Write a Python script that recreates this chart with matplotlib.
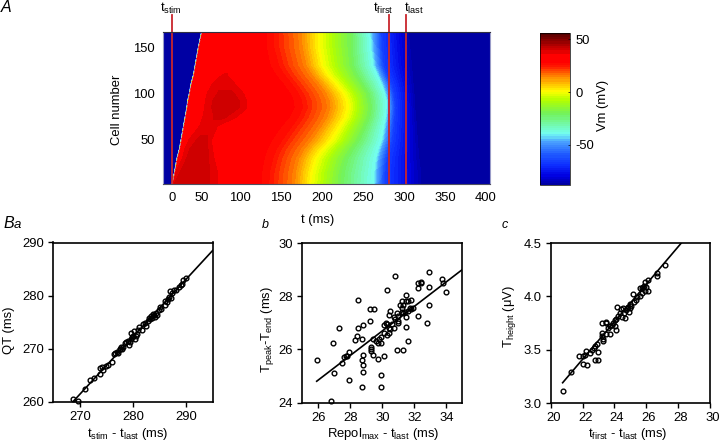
import numpy as np
import matplotlib
matplotlib.use("Agg")
import matplotlib.pyplot as plt
from matplotlib.colors import LinearSegmentedColormap
from matplotlib.transforms import ScaledTranslation

plt.rcParams['font.family'] = ['Liberation Sans', 'DejaVu Sans']
plt.rcParams['font.size'] = 9.4
plt.rcParams['mathtext.fontset'] = 'custom'
plt.rcParams['mathtext.rm'] = 'Liberation Sans'
plt.rcParams['mathtext.it'] = 'Liberation Sans:italic'
plt.rcParams['mathtext.default'] = 'regular'

# Panel A: time (ms) at which each cell row passes each voltage
cell_rows = [2, 15, 30, 40, 50, 65, 75, 85, 92, 100, 110, 120, 130, 150, 167]
t_act = [17, 20, 23, 26, 28, 31, 33, 35, 36, 38, 40, 43, 45, 49, 53]
t_rise = [19, 22, 30, 33, 38, 51, 55, 57, 58, 60, 66, 78, 88, 90, 92]
t_peak1 = [20, 30, 38, 42, 50, 58, 72, 70, 71, 76, 72, 80, 92, 94, 96]
t_peak2 = [57, 58, 58, 58, 58, 66, 80, 94, 94, 90, 88, 82, 96, 98, 100]
t_fall = [72, 72, 68, 66, 65, 72, 96, 108, 108, 104, 94, 84, 100, 102, 104]
t_27 = [132, 133, 137, 141, 148, 160, 168, 173, 172, 168, 160, 151, 144, 138, 137]
t_15 = [165, 166, 170, 176, 185, 197, 204, 208, 207, 203, 195, 186, 179, 174, 173]
t_0 = [186, 188, 193, 201, 212, 222, 229, 232, 231, 227, 218, 208, 201, 197, 197]
t_m20 = [222, 223, 228, 235, 243, 251, 256, 258, 257, 255, 248, 241, 236, 234, 234]
t_m40 = [262, 263, 265, 268, 272, 275, 277, 278, 278, 276, 272, 267, 262, 259, 258]
t_m65 = [277, 277, 279, 282, 285, 287, 288, 289, 288, 287, 284, 279, 275, 273, 272]
t_m85 = [320, 320, 318, 317, 316, 315, 314, 313, 313, 312, 311, 310, 309, 307, 305]
v_rise = [36, 36, 36, 36, 36, 36, 36, 36, 36, 36, 36, 36, 33, 33, 33]
v_peak = [42, 42, 42, 42, 41, 38, 41, 42, 42, 41, 38, 36.5, 33, 33, 33]
v_levels = list(np.arange(-88, 28, 2)) + [28, 36] + list(np.arange(40, 58, 2))

t_tick_pos = [17, 53, 100, 150, 200, 250, 300, 350, 400]
t_tick_labels = ['0', '50', '100', '150', '200', '250', '300', '350', '400']
t_stim, t_first, t_last = 17, 282, 303

# Panel Ba
qt_x = [268.7, 269.7, 271, 271.9, 272.6, 273.7, 273.7, 274.2, 274.4, 274.9, 275.3, 276, 276.4, 276.7, 277, 277.2, 277.5,
        277.6, 277.8, 278, 278.2, 278.5, 278.7, 279, 279.2, 279.4, 279.6, 279.8, 279.6, 280, 280.2, 280.3, 280.5, 280.8,
        281, 281.2, 281.7, 281.9, 282.2, 282.4, 282.8, 283, 283.2, 283.4, 283.6, 283.8, 284, 284.2, 284.4, 284.6, 284.9,
        285.1, 285.3, 286, 286.1, 286.4, 286.6, 286.8, 287, 287.1, 287.4, 287.8, 288.1, 288.7, 289, 289.3, 289.4, 290]
qt_y = [260.6, 260.2, 262.3, 264.1, 264.4, 265.3, 266.4, 266.6, 265.9, 266.8, 266.9, 267.5, 269, 269.1, 269.3, 269.2, 270,
        269.9, 270.4, 270, 270.3, 271, 271.3, 271.5, 270.7, 271.3, 271.8, 272.1, 272.9, 272.4, 273.4, 271.8, 272.3, 272.8,
        273.5, 274.1, 273.6, 274.7, 274.9, 274.3, 275.3, 275.8, 275.6, 276.2, 275.7, 276.6, 276.3, 275.9, 276.8, 276.3, 277.2,
        277.8, 277.5, 278.2, 278.9, 278.8, 279.4, 279.8, 280.8, 279.6, 280.5, 281.1, 281, 281.6, 281.9, 282.2, 283, 283.3]
qt_fit_x = [268.7, 295]
qt_fit_y = [260, 288.5]

# Panel b
tpe_x = [25.9, 26.9, 26.8, 27.0, 27.3, 27.5, 27.6, 27.7, 27.8, 27.9, 27.9, 28.3, 28.4, 28.5, 28.5, 28.7, 28.7, 28.7, 28.8,
         28.8, 28.8, 28.8, 29.2, 29.2, 29.3, 29.3, 29.3, 29.4, 29.4, 29.5, 29.6, 29.7, 29.7, 29.8, 29.9, 29.9, 29.9, 29.9,
         30.1, 30.1, 30.1, 30.2, 30.3, 30.3, 30.3, 30.4, 30.4, 30.4, 30.5, 30.5, 30.6, 30.7, 30.7, 30.8, 30.8, 30.9, 30.9,
         31, 31, 31, 31.1, 31.2, 31.2, 31.2, 31.3, 31.3, 31.3, 31.4, 31.5, 31.5, 31.5, 31.5, 31.6, 31.6, 31.6, 31.7, 31.8,
         31.8, 31.9, 32.2, 32.2, 32.2, 32.4, 32.4, 32.8, 32.9, 32.9, 32.9, 33.7, 33.8, 34]
tpe_y = [25.6, 26.25, 24.05, 25.1, 26.8, 25.5, 25.7, 25.75, 25.75, 25.9, 24.85, 26.35, 26.5, 26.8, 27.87, 26.4, 25.6, 24.6, 26.9,
         25.8, 25.4, 25.15, 27.5, 27.05, 26.1, 26, 25.95, 26.4, 25.8, 27.5, 26.3, 26.25, 25.65, 26.4, 26.45, 26.25, 25.05, 24.6,
         26.6, 26.9, 25.75, 27, 26.55, 26.95, 28.25, 26.6, 26.8, 27.3, 26.75, 27.45, 26.95, 27.2, 26.8, 27.15, 28.75, 27.35, 25.97,
         27.05, 27.25, 27, 27.65, 27.4, 27.55, 27.8, 27.35, 27.65, 25.97, 27.4, 27.2, 27.8, 26.85, 28.05, 27.8, 27.45, 26.3, 27.55, 27.5,
         27.85, 27.55, 28.5, 28.3, 27.25, 28.5, 28.55, 27, 28.9, 28.35, 27.65, 28.65, 28.5, 28.15]
tpe_fit_x = [25.9, 35]
tpe_fit_y = [24.8, 29]

# Panel c
th_x = [20.8, 21.27, 21.77, 22, 22.2, 22.03, 22.3, 22.17, 22.46, 22.6, 22.7, 22.8, 22.9, 22.78, 23, 23, 23.2, 23.2, 23.24,
        23.3, 23.3, 23.5, 23.45, 23.5, 23.6, 23.7, 23.7, 23.82, 23.92, 24.03, 24.1, 24.03, 24.13, 24.18, 24.24, 24.35, 24.43,
        24.45, 24.55, 24.6, 24.68, 24.72, 24.76, 24.87, 24.9, 24.97, 25, 25.07, 25.18, 25.24, 25.35, 25.39, 25.6, 25.7, 25.6,
        25.8, 25.9, 26.1, 26.1, 25.95, 26.7, 26.7, 27.2, 25.75, 25.85, 26.0]
th_y = [3.11, 3.29, 3.44, 3.445, 3.49, 3.37, 3.36, 3.45, 3.47, 3.5, 3.52, 3.53, 3.55, 3.4, 3.48, 3.4, 3.66, 3.75, 3.63,
        3.58, 3.6, 3.76, 3.75, 3.65, 3.7, 3.65, 3.72, 3.73, 3.75, 3.72, 3.68, 3.78, 3.79, 3.9, 3.82, 3.84, 3.88,
        3.81, 3.89, 3.84, 3.8, 3.87, 3.89, 3.9, 3.85, 3.93, 3.89, 3.91, 4.02, 3.95, 3.97, 3.99, 4.0, 4.03, 4.08,
        4.09, 4.13, 4.15, 4.05, 4.05, 4.22, 4.19, 4.29, 4.08, 4.1, 4.09]
th_fit_x = [20.75, 28.2]
th_fit_y = [3.19, 4.5]

W, H = 720, 442
cell_x = np.array(cell_rows, dtype=float)
n = len(cell_rows)
fig = plt.figure(figsize=(W / 100, H / 100), dpi=100)


def box(x0, y0, x1, y1):
    return fig.add_axes([x0 / W, 1 - y1 / H, (x1 - x0) / W, (y1 - y0) / H])


def text_px(x, y, s, **kw):
    kw.setdefault('ha', 'center')
    kw.setdefault('va', 'center')
    fig.text(x / W, 1 - y / H, s, **kw)


cmap = LinearSegmentedColormap.from_list('vm', [
    (0.0, (0, 0, 0.62)), (0.03, (0, 0, 0.76)), (0.06, (0, 0, 0.88)), (0.13, (0.05, 0.18, 1)), (0.2, (0.12, 0.35, 1)),
    (0.29, (0.3, 0.65, 1)), (0.335, (0.45, 1, 0.95)), (0.47, (0.45, 0.95, 0.35)), (0.56, (0.7, 1, 0)), (0.615, (1, 1, 0)),
    (0.71, (1, 0.55, 0)), (0.79, (1, 0.05, 0)), (0.83, (1, 0, 0)), (0.855, (1, 0, 0)), (0.875, (0.91, 0, 0)),
    (0.903, (0.79, 0, 0)), (1.0, (0.3, 0, 0))])

# Panel A
ax = box(163, 32, 490, 184)
X = np.column_stack([np.zeros(n), t_act, np.array(t_act) + 1, t_rise, t_peak1, t_peak2, t_fall,
                     t_27, t_15, t_0, t_m20, t_m40, t_m65, t_m85, np.full(n, 420)])
Y = np.tile(cell_x[:, None], (1, X.shape[1]))
Z = np.column_stack([np.full(n, -86), np.full(n, -86), np.full(n, 33), v_rise, v_peak, v_peak, v_rise,
                     np.full(n, 27), np.full(n, 15), np.full(n, 0), np.full(n, -20), np.full(n, -40),
                     np.full(n, -65), np.full(n, -86), np.full(n, -86)])
cs = ax.contourf(X, Y, Z, levels=v_levels, cmap=cmap, vmin=-88, vmax=56)
cs.set_edgecolor('face')
cs.set_linewidth(0.25)
ax.plot(t_act, cell_rows, color='#b4b4c4', lw=0.7, ls=(0, (3, 1)))
ax.set_xlim(6, 405)
ax.set_ylim(2, 167)
ax.set_xticks(t_tick_pos)
ax.set_xticklabels(t_tick_labels)
ax.set_yticks([50, 100, 150])
ax.tick_params(length=0, pad=6)
for s in ['left', 'right']:
    ax.spines[s].set_color('#9a9cc8')
ax.spines['top'].set_color('#303040')
ax.spines['bottom'].set_color('#505060')
for tx in [t_stim, t_first, t_last]:
    ax.plot([tx, tx], [0, 1.11], color='#c9252c', lw=1.3, clip_on=False, transform=ax.get_xaxis_transform())
text_px(171, 8, r'$t_{stim}$', fontsize=9.4)
text_px(383, 8, r'$t_{first}$', fontsize=9.4)
text_px(414, 8, r'$t_{last}$', fontsize=9.4)
text_px(318, 220, 't (ms)')
text_px(117, 110, 'Cell number', rotation=90)
text_px(6, 7, 'A', fontstyle='italic', fontsize=11.5)

cax = box(540, 33, 570, 185)
cb = fig.colorbar(cs, cax=cax, spacing='proportional')
cb.set_ticks([50, 0, -50])
cb.set_ticklabels(['50', '0', '-50'])
cax.tick_params(length=1.5, width=0.5, pad=4, direction='in')
cb.outline.set_linewidth(0.5)
text_px(603, 105, 'Vm (mV)', rotation=90)

# Panels B
def scatter_panel(rect, xs, ys, fit_x, fit_y, xlim, ylim, xticks, yticks, yfmt=None, xshift=0):
    a = box(*rect)
    a.plot(fit_x, fit_y, color='black', lw=1.2, clip_on=True)
    a.plot(xs, ys, 'o', mfc='none', mec='black', ms=3.4, mew=1.0, clip_on=False)
    a.set_xlim(*xlim)
    a.set_ylim(*ylim)
    a.set_xticks(xticks)
    a.set_yticks(yticks)
    if yfmt:
        a.set_yticklabels([yfmt % v for v in yticks])
    a.tick_params(length=3.5, width=1, pad=3)
    if xshift:
        shift = ScaledTranslation(xshift / 100, 0, fig.dpi_scale_trans)
        for lab in a.get_xticklabels():
            lab.set_transform(lab.get_transform() + shift)
    for s in a.spines.values():
        s.set_linewidth(1.2)
    return a


scatter_panel((53.3, 242.5, 212.7, 401.7), qt_x, qt_y, qt_fit_x, qt_fit_y, (265, 295), (260, 290),
              [270, 280, 290], [260, 270, 280, 290])
scatter_panel((302.3, 243, 462.3, 402.5), tpe_x, tpe_y, tpe_fit_x, tpe_fit_y, (25, 35), (24, 30),
              [26, 28, 30, 32, 34], [24, 26, 28, 30])
scatter_panel((550.7, 243, 710, 403), th_x, th_y, th_fit_x, th_fit_y, (20, 30), (3.0, 4.5),
              [20, 22, 24, 26, 28, 30], [3.0, 3.5, 4.0, 4.5], yfmt='%.1f', xshift=2.7)

text_px(9, 330, 'QT (ms)', rotation=90)
text_px(128, 433.5, r'$t_{stim}$ - $t_{last}$ (ms)')
text_px(268, 330, r'$T_{peak}$-$T_{end}$ (ms)', rotation=90)
text_px(383, 433.5, r'$Repol_{max}$ - $t_{last}$ (ms)')
text_px(509, 317, r'$T_{height}$ ($\mu$V)', rotation=90)
text_px(628, 433.5, r'$t_{first}$ - $t_{last}$ (ms)')
text_px(9, 223, 'B', fontstyle='italic', fontsize=11.5)
text_px(17, 225, 'a', fontstyle='italic', fontsize=9.5)
text_px(265, 225, 'b', fontstyle='italic', fontsize=9)
text_px(505, 225, 'c', fontstyle='italic', fontsize=9)

fig.savefig('out.png', dpi=100)
